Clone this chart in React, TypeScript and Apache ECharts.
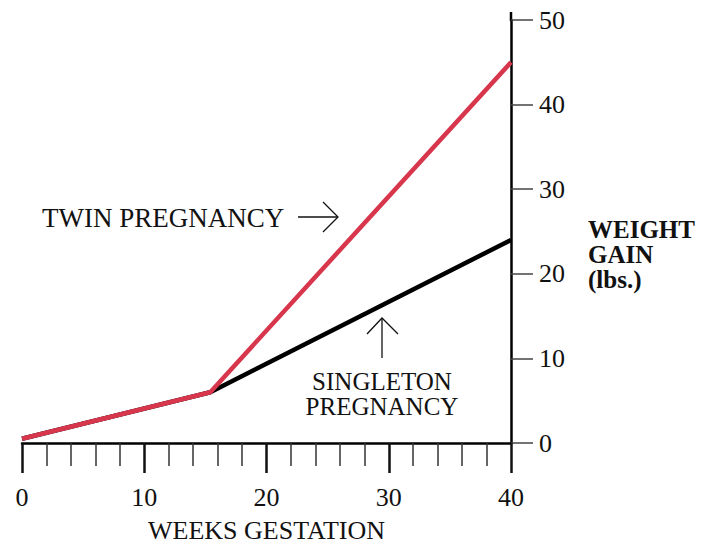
import React, { useEffect, useRef } from "react";
import * as echarts from "echarts";

const weeks = [0, 15.4, 40];
const singleton = [0.5, 6, 24];
const twin = [0.5, 6, 45];
const xTicks = [0, 10, 20, 30, 40];
const yTicks = [0, 10, 20, 30, 40, 50];

const RED = "#d8364c";
const FONT = "'Liberation Serif', 'DejaVu Serif', serif";

export default function App() {
  const ref = useRef<HTMLDivElement>(null);
  useEffect(() => {
    if (!ref.current) return;
    const chart = echarts.init(ref.current, null, { renderer: "svg" });
    const pairs = (ys: number[]) => weeks.map((w, i) => [w, ys[i]]);
    chart.setOption({
      animation: false,
      backgroundColor: "#ffffff",
      grid: { left: 22, right: 203, top: 20, bottom: 100, outerBoundsMode: "none", containLabel: false },
      xAxis: {
        type: "value",
        min: xTicks[0],
        max: xTicks[xTicks.length - 1],
        interval: 10,
        name: "WEEKS GESTATION",
        nameLocation: "middle",
        nameGap: 74,
        nameTextStyle: { fontFamily: FONT, fontSize: 26, color: "#111" },
        axisLine: { show: true, onZero: false, lineStyle: { color: "#000", width: 2.5 } },
        axisTick: { show: true, inside: false, length: 30, lineStyle: { color: "#111", width: 2.5 } },
        minorTick: { show: true, splitNumber: 5, length: 23, lineStyle: { color: "#333", width: 1.5 } },
        splitLine: { show: false },
        axisLabel: { margin: 41, fontFamily: FONT, fontSize: 26, color: "#111" },
      },
      yAxis: {
        type: "value",
        position: "right",
        min: yTicks[0],
        max: yTicks[yTicks.length - 1],
        interval: 10,
        axisLine: { show: true, onZero: false, lineStyle: { color: "#000", width: 2.5 } },
        axisTick: { show: true, inside: false, length: 22, lineStyle: { color: "#444", width: 1.5 } },
        splitLine: { show: false },
        axisLabel: { margin: 28, fontFamily: FONT, fontSize: 26, color: "#111" },
      },
      series: [
        {
          type: "line",
          data: pairs(singleton),
          symbol: "none",
          lineStyle: { color: "#000", width: 4.5 },
          z: 2,
        },
        {
          type: "line",
          data: pairs(twin),
          symbol: "none",
          lineStyle: { color: RED, width: 4.5 },
          z: 3,
        },
      ],
    });
    const top = chart.convertToPixel({ yAxisIndex: 0 }, yTicks[yTicks.length - 1]);
    const right = chart.convertToPixel({ xAxisIndex: 0 }, xTicks[xTicks.length - 1]);
    const txt = (text: string, x: number, y: number, size: number, align: string, bold = false) => ({
      type: "text",
      x,
      y,
      style: {
        text,
        font: `${bold ? "bold " : ""}${size}px ${FONT}`,
        fill: "#111",
        align,
        verticalAlign: "middle",
      },
    });
    chart.setOption({
      graphic: [
        {
          type: "line",
          shape: { x1: right, y1: top - 8, x2: right, y2: top + 1 },
          style: { stroke: "#000", lineWidth: 2.5 },
        },
        txt("TWIN PREGNANCY", 42, 218, 27, "left"),
        {
          type: "line",
          shape: { x1: 298, y1: 217, x2: 338, y2: 217 },
          style: { stroke: "#111", lineWidth: 1.3 },
        },
        {
          type: "polyline",
          shape: { points: [[323, 202], [338, 217], [323, 232]] },
          style: { stroke: "#111", lineWidth: 1.3, fill: null },
        },
        {
          type: "line",
          shape: { x1: 382, y1: 358, x2: 382, y2: 318 },
          style: { stroke: "#111", lineWidth: 1.3 },
        },
        {
          type: "polyline",
          shape: { points: [[367, 334], [382, 318], [398, 334]] },
          style: { stroke: "#111", lineWidth: 1.3, fill: null },
        },
        txt("SINGLETON", 382, 381, 25, "center"),
        txt("PREGNANCY", 382, 406, 25, "center"),
        txt("WEIGHT", 588, 229, 25, "left", true),
        txt("GAIN", 588, 254, 25, "left", true),
        txt("(lbs.)", 588, 279, 25, "left", true),
      ],
    });
    return () => chart.dispose();
  }, []);
  return (
    <div
      ref={ref}
      style={{ position: "fixed", left: 0, top: 0, width: 714, height: 543 }}
    />
  );
}
